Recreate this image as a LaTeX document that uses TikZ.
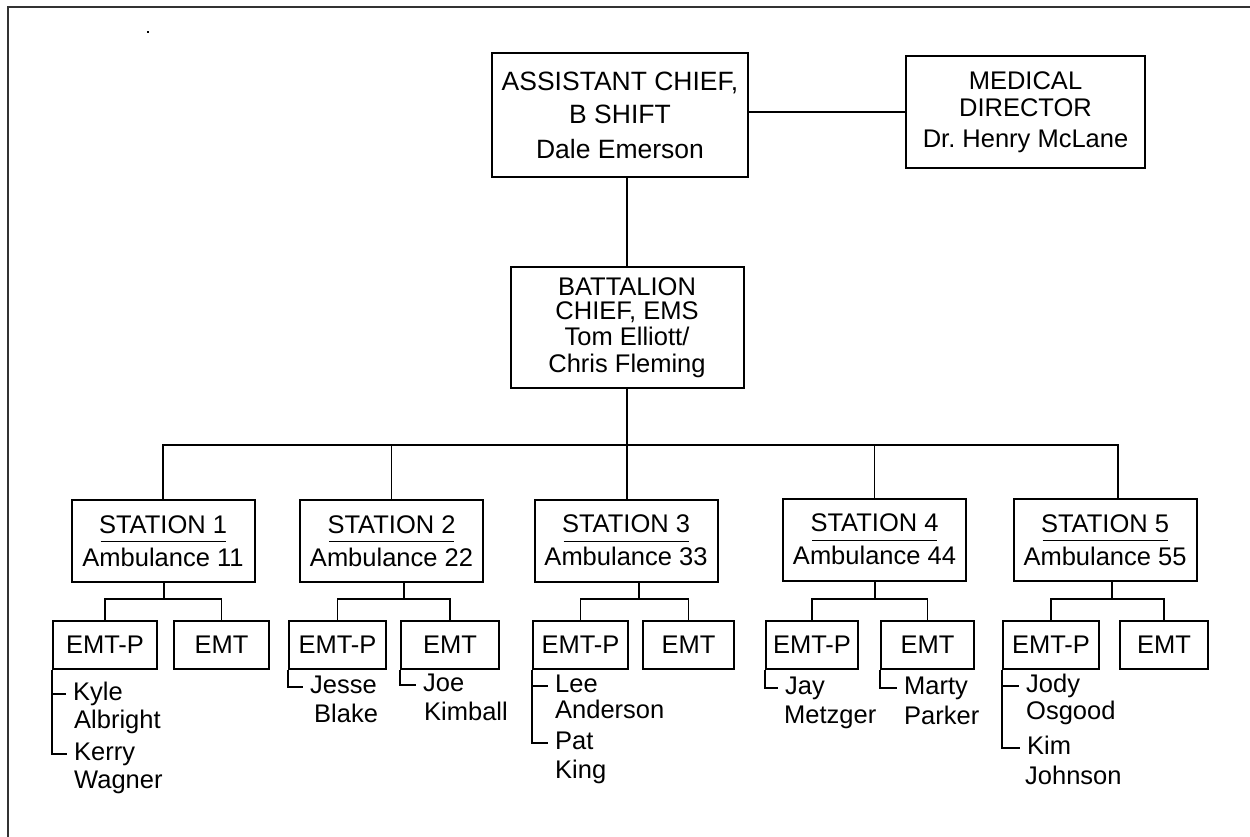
\documentclass[tikz,border=0pt]{standalone}
\usepackage{fontspec}
\setmainfont{Liberation Sans}
\frenchspacing

\begin{document}
\begin{tikzpicture}[x=1pt, y=-1pt, font=\fontsize{25.5}{27}\selectfont,
   box/.style={draw, line width=2pt, align=center, inner sep=0pt},
   emtbox/.style={box, minimum height=48pt},
   stationbox/.style={box, minimum width=183pt, minimum height=82pt},
   link/.style={line width=1.2pt},
   mainlink/.style={line width=2pt},
   person/.style={anchor=west, inner xsep=7pt, inner ysep=0pt, text height=18pt, text depth=5pt}]
   \useasboundingbox (0,0) rectangle (1250,837);
   \draw[line width=2pt, black!80] (8,837) -- (8,7) -- (1250,7);
   \fill (147,31) rectangle (149,33);
   % top of the chart
   \node[box, minimum width=256pt, minimum height=124pt, font=\fontsize{26.5}{27}\selectfont] (asst) at (620,115) {ASSISTANT CHIEF,\\[6pt] B SHIFT\\[8pt] Dale Emerson};
   \node[box, minimum width=239pt, minimum height=112pt] (med) at (1025.5,112) {MEDICAL\\ DIRECTOR\\[4pt] Dr. Henry McLane};
   \node[box, minimum width=233pt, minimum height=121pt] (bat) at (627,327.5) {BATTALION\\[-3pt] CHIEF, EMS\\[-1pt] Tom Elliott/\\ Chris Fleming};
   \draw[mainlink] (med.west) -- (med.west -| asst.east);
   \draw[mainlink] (bat.north) -- (bat.north |- asst.south);
   % stations
   \node[stationbox] (st1) at (163,541) {STATION 1\\[-18pt]\rule{125pt}{1.2pt}\\[-3pt]Ambulance 11};
   \node[stationbox] (st2) at (391.5,541) {STATION 2\\[-18pt]\rule{125pt}{1.2pt}\\[-3pt]Ambulance 22};
   \node[stationbox] (st3) at (626,540.5) {STATION 3\\[-18pt]\rule{125pt}{1.2pt}\\[-3pt]Ambulance 33};
   \node[stationbox] (st4) at (874.5,539.5) {STATION 4\\[-18pt]\rule{125pt}{1.2pt}\\[-3pt]Ambulance 44};
   \node[stationbox] (st5) at (1105,540) {STATION 5\\[-18pt]\rule{125pt}{1.2pt}\\[-3pt]Ambulance 55};
   \coordinate (bus) at (627,445);
   \draw[mainlink] (bat.south) -- (bat.south |- st3.north);
   \draw[link] (st1.north) |- (bus) -| ([xshift=13pt]st5.north);
   \draw[link] (st2.north) |- (bus);
   \draw[link] (st4.north) |- (bus);
   % crews
   \node[emtbox, minimum width=104pt] (p1) at (105,645) {EMT-P};
   \node[emtbox, minimum width=95pt] (e1) at (221.5,645) {EMT};
   \node[emtbox, minimum width=97pt] (p2) at (337.5,645) {EMT-P};
   \node[emtbox, minimum width=98pt] (e2) at (450,645) {EMT};
   \node[emtbox, minimum width=95pt] (p3) at (580.5,645) {EMT-P};
   \node[emtbox, minimum width=91pt] (e3) at (688.5,645) {EMT};
   \node[emtbox, minimum width=92pt] (p4) at (812,645) {EMT-P};
   \node[emtbox, minimum width=93pt] (e4) at (927.5,645) {EMT};
   \node[emtbox, minimum width=96pt] (p5) at (1051,645) {EMT-P};
   \node[emtbox, minimum width=88pt] (e5) at (1164,645) {EMT};
   \coordinate (j1) at (164,599);
   \coordinate (j2) at (404,599);
   \coordinate (j3) at (639,599);
   \coordinate (j4) at (875,599);
   \coordinate (j5) at (1112,599);
   \draw[link] (st1.south -| j1) -- (j1);
   \draw[link] (p1.north) |- (j1) -| (e1.north);
   \draw[link] (st2.south -| j2) -- (j2);
   \draw[link] (p2.north) |- (j2) -| (e2.north);
   \draw[link] (st3.south -| j3) -- (j3);
   \draw[link] (p3.north) |- (j3) -| (e3.north);
   \draw[link] (st4.south -| j4) -- (j4);
   \draw[link] (p4.north) |- (j4) -| (e4.north);
   \draw[link] (st5.south -| j5) -- (j5);
   \draw[link] (p5.north) |- (j5) -| (e5.north);
   % names
   \node[person] (kyle) at (66,694) {Kyle};
   \node[person] (kylea) at (67,722) {Albright};
   \node[person] (kerry) at (67,754) {Kerry};
   \node[person] (kerryw) at (67,782) {Wagner};
   \node[person] (jesse) at (303,687) {Jesse};
   \node[person] (jesseb) at (307,716) {Blake};
   \node[person] (joe) at (416,685) {Joe};
   \node[person] (joek) at (417,714) {Kimball};
   \node[person] (lee) at (548,686) {Lee};
   \node[person] (leea) at (548,712) {Anderson};
   \node[person] (pat) at (548,743) {Pat};
   \node[person] (patk) at (548,772) {King};
   \node[person] (jay) at (778,688) {Jay};
   \node[person] (jaym) at (777,717) {Metzger};
   \node[person] (marty) at (897,688) {Marty};
   \node[person] (martyp) at (897,718) {Parker};
   \node[person] (jody) at (1019,686) {Jody};
   \node[person] (jodyo) at (1019,713) {Osgood};
   \node[person] (kim) at (1020,748) {Kim};
   \node[person] (kimj) at (1018,778) {Johnson};
   \draw[link] (p1.south west) |- (kerry);
   \draw[link] (p1.south west) |- (kyle);
   \draw[link] (p2.south west) |- (jesse);
   \draw[link] (e2.south west) |- (joe);
   \draw[link] (p3.south west) |- (pat);
   \draw[link] (p3.south west) |- (lee);
   \draw[link] (p4.south west) |- (jay);
   \draw[link] (e4.south west) |- (marty);
   \draw[link] (p5.south west) |- (kim);
   \draw[link] (p5.south west) |- (jody);
\end{tikzpicture}
\end{document}
